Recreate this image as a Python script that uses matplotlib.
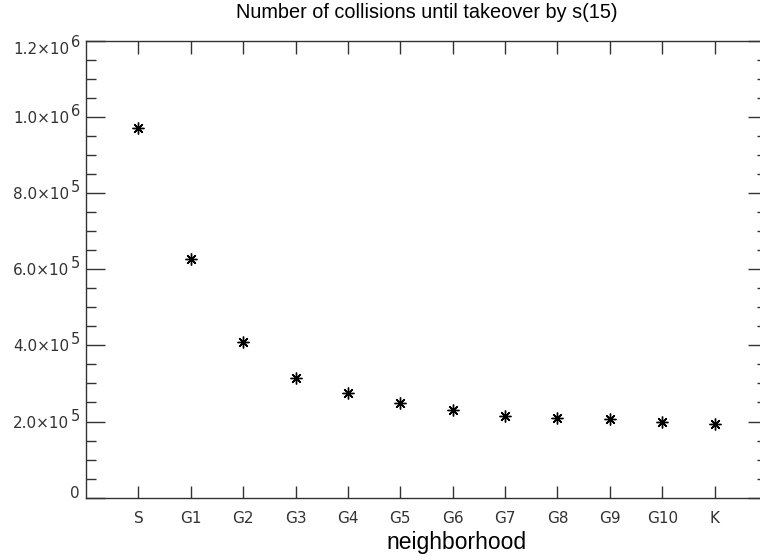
import matplotlib
matplotlib.use("Agg")
import matplotlib.pyplot as plt
from matplotlib.ticker import MultipleLocator, FixedLocator, NullFormatter

# Neighborhood types and the number of collisions each needed
neighborhoods = ["S", "G1", "G2", "G3", "G4", "G5", "G6", "G7", "G8", "G9", "G10", "K"]
collisions = [971000, 628000, 408000, 315000, 274000, 248000, 230000,
              214500, 210000, 206000, 200000, 193000]

title = "Number of collisions until takeover by s(15)"
xlabel = "neighborhood"

plt.rcParams["font.family"] = ["Liberation Sans", "DejaVu Sans"]
tick_font = "DejaVu Sans"
tick_color = "#333333"

W, H = 760, 560
fig = plt.figure(figsize=(W / 100, H / 100), dpi=100)
left, right, top, bottom = 86, 767, 40.7, 497.7
ax = fig.add_axes([left / W, (H - bottom) / H, (right - left) / W, (bottom - top) / H])

x = list(range(len(neighborhoods)))
ax.plot(x, collisions, linestyle="none", marker=(8, 2, 0), markersize=8.5,
        markeredgewidth=1.0, color="black")

ax.set_xlim(-1, len(neighborhoods))
ax.set_ylim(0, 1.2e6)

ax.xaxis.set_major_locator(FixedLocator(x))
ax.set_xticklabels(neighborhoods, fontfamily=tick_font)
ax.yaxis.set_major_locator(MultipleLocator(2e5))
ax.yaxis.set_minor_locator(MultipleLocator(5e4))
ax.yaxis.set_major_formatter(NullFormatter())

edge = "#333333"
for s in ax.spines.values():
    s.set_color(edge)
    s.set_linewidth(1.0)

ax.tick_params(axis="x", which="major", direction="in", length=9, width=1.0,
               color=edge, top=True, bottom=True, pad=9.5, labelsize=11,
               labelcolor=tick_color)
ax.tick_params(axis="y", which="major", direction="in", length=14, width=1.0,
               color=edge, left=True, right=True)
ax.tick_params(axis="y", which="minor", direction="in", length=7, width=1.0,
               color=edge, left=True, right=True)
ax.tick_params(axis="x", which="minor", bottom=False, top=False)

# y labels written as mantissa x 10 with a raised exponent
ytrans = ax.get_yaxis_transform()
ymin, ymax = ax.get_ylim()
for v in ax.get_yticks():
    if v < ymin or v > ymax:
        continue
    if v == 0:
        ax.annotate("0", xy=(0, v), xycoords=ytrans, xytext=(-6, 0),
                    textcoords="offset pixels", ha="right", va="baseline",
                    fontsize=11, family=tick_font, color=tick_color,
                    annotation_clip=False)
        continue
    exp = 0
    m = v
    while abs(m) >= 10:
        m /= 10
        exp += 1
    dy = -7 if v == ymax else 0
    ax.annotate("%.1f\u00d710" % m, xy=(0, v), xycoords=ytrans,
                xytext=(-17, -6 + dy), textcoords="offset pixels",
                ha="right", va="baseline", fontsize=11, family=tick_font,
                color=tick_color, annotation_clip=False)
    ax.annotate("%d" % exp, xy=(0, v), xycoords=ytrans,
                xytext=(-6, 1 + dy), textcoords="offset pixels",
                ha="right", va="baseline", fontsize=10.5, family=tick_font,
                color=tick_color, annotation_clip=False)

fig.text((left + right) / 2 / W, 1 - 13 / H, title, ha="center", va="center",
         fontsize=14.3, color="black")
fig.text(457 / W, 1 - 543 / H, xlabel, ha="center", va="center",
         fontsize=16.5, color="black")

fig.savefig("out.png", dpi=100)
